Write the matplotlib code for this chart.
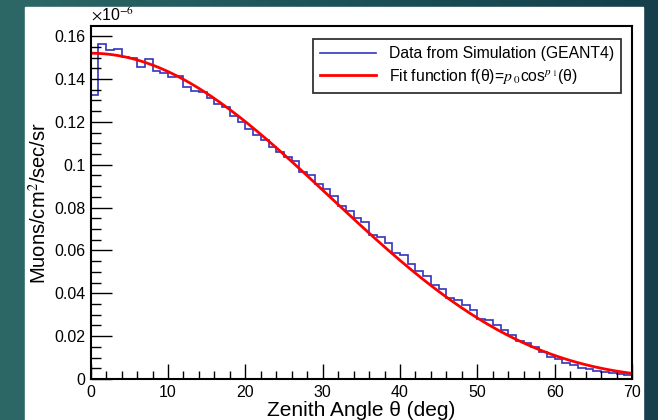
import matplotlib.pyplot as plt
import matplotlib.patches as patches
from matplotlib.colors import LinearSegmentedColormap
import numpy as np

plt.rcParams['font.family'] = ['Liberation Sans', 'DejaVu Sans']
plt.rcParams['mathtext.fontset'] = 'stix'

# histogram from GEANT4, 1 degree bins from 0 to 70 (values in units of 1e-6)
bin_edges = np.arange(0, 71, 1)
sim_values = [0.1323, 0.1565, 0.1536, 0.1541, 0.1504, 0.1500, 0.1458, 0.1493, 0.1439, 0.1427,
              0.1408, 0.1412, 0.1361, 0.1344, 0.1338, 0.1310, 0.1282, 0.1267, 0.1228, 0.1201,
              0.1166, 0.1139, 0.1113, 0.1081, 0.1060, 0.1034, 0.1018, 0.0968, 0.0950, 0.0909,
              0.0886, 0.0856, 0.0805, 0.0782, 0.0753, 0.0732, 0.0673, 0.0661, 0.0634, 0.0587,
              0.0580, 0.0536, 0.0502, 0.0479, 0.0437, 0.0421, 0.0380, 0.0368, 0.0344, 0.0320,
              0.0278, 0.0274, 0.0252, 0.0227, 0.0204, 0.0176, 0.0168, 0.0149, 0.0126, 0.0104,
              0.0095, 0.0076, 0.0064, 0.0053, 0.0045, 0.0039, 0.0034, 0.0029, 0.0025, 0.0017]

# fit f(theta) = p0 * cos^p1(theta)
p0 = 0.152
p1 = 3.79

theta = np.linspace(0, 70, 300)
fit = p0 * np.cos(np.radians(theta)) ** p1

fig = plt.figure(figsize=(6.58, 4.20), dpi=100)

# teal slide background + white panel
bg = fig.add_axes([0, 0, 1, 1], zorder=-10)
grad = np.linspace(0, 1, 256).reshape(1, -1)
cmap = LinearSegmentedColormap.from_list("bg", ["#2d6867", "#1d5258", "#143f4b"])
bg.imshow(grad, aspect='auto', cmap=cmap, extent=[0, 1, 0, 1])
bg.add_patch(patches.Rectangle((25 / 658, 0), (643 - 25) / 658, 1 - 7 / 420,
                               color='white', transform=bg.transAxes))
bg.set_xlim(0, 1)
bg.set_ylim(0, 1)
bg.axis('off')

ax = fig.add_axes([90.7 / 658, 41 / 420, (632 - 90.7) / 658, (379 - 26) / 420])
ax.stairs(sim_values, bin_edges, color='#3333c0', lw=1.2, label='Data from Simulation (GEANT4)')
ax.plot(theta, fit, color='red', lw=2, label=r'Fit function f(θ)=$p_{\ 0}$cos$^{p_{\ 1}}$(θ)')

ax.set_xlim(0, 70)
ax.set_ylim(0, 0.1647)
ax.set_xticks(np.arange(0, 71, 10))
ax.set_xticks(np.arange(0, 71, 2), minor=True)
ax.set_yticks(np.arange(0, 0.161, 0.02))
ax.set_yticks(np.arange(0, 0.165, 0.005), minor=True)
ax.set_yticklabels(['0', '0.02', '0.04', '0.06', '0.08', '0.1', '0.12', '0.14', '0.16'])
ax.tick_params(axis='both', which='both', direction='in', labelsize=11.5, colors='black')
ax.tick_params(axis='y', which='major', length=15, width=1, pad=4)
ax.tick_params(axis='y', which='minor', length=7.5, width=1)
ax.tick_params(axis='x', which='major', length=11, width=1, pad=4)
ax.tick_params(axis='x', which='minor', length=5.5, width=1)
for s in ax.spines.values():
    s.set_linewidth(1.5)

ax.set_ylabel('Muons/cm$^2$/sec/sr', fontsize=14.5, labelpad=3)
ax.set_xlabel('Zenith Angle θ (deg)', fontsize=15, labelpad=1)
ax.text(0.0, 1.008, r'$\times$10$^{-6}$', transform=ax.transAxes, fontsize=11.5, ha='left', va='bottom')

leg = ax.legend(loc='upper right', bbox_to_anchor=(0.994, 0.985), fontsize=11.3,
                frameon=True, fancybox=False, handlelength=3.6, borderpad=0.45,
                labelspacing=0.35)
leg.get_frame().set_edgecolor('black')
leg.get_frame().set_linewidth(1.3)

plt.savefig('out.png', dpi=100)
